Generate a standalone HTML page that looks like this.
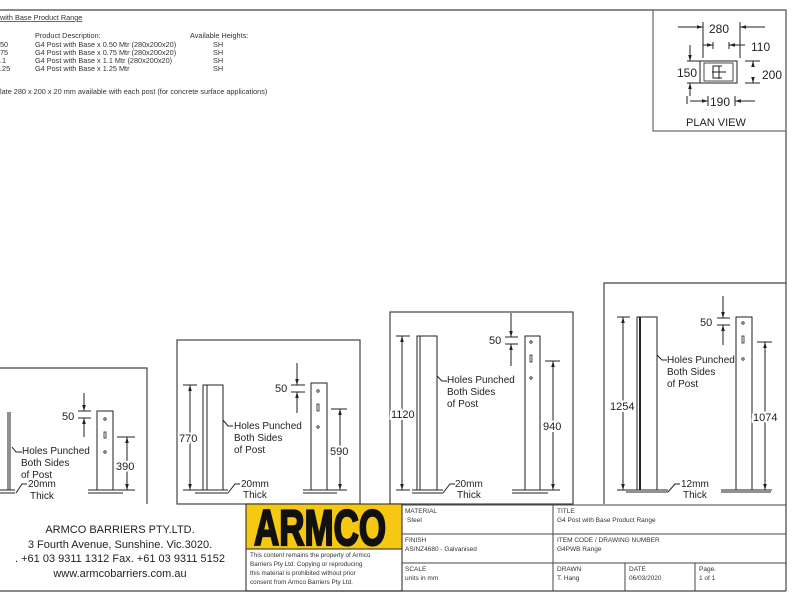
<!DOCTYPE html>
<html><head><meta charset="utf-8"><style>
html,body{margin:0;padding:0;background:#fff;}
svg{display:block;font-family:"Liberation Sans",Arial,sans-serif;}
.d{paint-order:stroke;stroke:#fff;stroke-width:4px;}
</style></head><body>
<svg width="800" height="600" viewBox="0 0 800 600" xmlns="http://www.w3.org/2000/svg">
<defs>
<marker id="a" viewBox="0 0 10 10" refX="10" refY="5" markerWidth="6" markerHeight="6" orient="auto-start-reverse"><path d="M0,2 L10,5 L0,8 z" fill="#222"/></marker>
</defs>
<g fill="none" stroke="#444" stroke-width="1.2">
<line x1="0" y1="10" x2="786" y2="10"/>
<line x1="786" y1="10" x2="786" y2="591"/>
<line x1="0" y1="591" x2="786" y2="591"/>
<rect x="653" y="10" width="133" height="121" stroke="#666"/>
<polyline points="0,368 147,368 147,504"/>
<rect x="177" y="340" width="183" height="164"/>
<rect x="390" y="312" width="183" height="192"/>
<polyline points="604,504 604,283 786,283"/>
</g>
<g font-size="7.3" fill="#333">
<text x="0" y="20" text-decoration="underline">with Base Product Range</text>
<text x="35" y="38">Product Description:</text><text x="190" y="38">Available Heights:</text>
<text x="0" y="47">50</text><text x="35" y="47">G4 Post with Base x 0.50 Mtr (280x200x20)</text><text x="213" y="47">SH</text>
<text x="0" y="55">75</text><text x="35" y="55">G4 Post with Base x 0.75 Mtr (280x200x20)</text><text x="213" y="55">SH</text>
<text x="0" y="63">.1</text><text x="35" y="63">G4 Post with Base x 1.1 Mtr (280x200x20)</text><text x="213" y="63">SH</text>
<text x="0" y="71">.25</text><text x="35" y="71">G4 Post with Base x 1.25 Mtr</text><text x="213" y="71">SH</text>
<text x="0" y="94">late 280 x 200 x 20 mm available with each post (for concrete surface applications)</text>
</g>
<g stroke="#222" stroke-width="1" fill="none">
<line x1="703" y1="22" x2="703" y2="58"/><line x1="740" y1="22" x2="740" y2="58"/>
<line x1="678" y1="27" x2="703" y2="27" marker-end="url(#a)"/><line x1="765" y1="27" x2="740" y2="27" marker-end="url(#a)"/>
<line x1="713" y1="42" x2="713" y2="49"/><line x1="729" y1="42" x2="729" y2="49"/>
<line x1="703" y1="45" x2="713" y2="45" marker-end="url(#a)"/><line x1="745" y1="45" x2="729" y2="45" marker-end="url(#a)"/>
<rect x="700" y="61" width="37" height="22"/>
<rect x="704" y="63" width="29" height="18" stroke-width="0.8"/>
<path d="M722,66 h-9 v12 h9" /><line x1="712" y1="72" x2="726" y2="72"/><line x1="719" y1="66" x2="719" y2="79"/>
<line x1="687" y1="61" x2="700" y2="61"/><line x1="687" y1="83" x2="700" y2="83"/>
<line x1="690" y1="45" x2="690" y2="61" marker-end="url(#a)"/><line x1="690" y1="96" x2="690" y2="83" marker-end="url(#a)"/>
<line x1="745" y1="61" x2="760" y2="61"/><line x1="745" y1="83" x2="760" y2="83"/>
<line x1="753" y1="66" x2="753" y2="61" marker-end="url(#a)"/><line x1="753" y1="78" x2="753" y2="83" marker-end="url(#a)"/>
<line x1="687" y1="96" x2="687" y2="104"/><line x1="708" y1="96" x2="708" y2="106"/><line x1="735" y1="96" x2="735" y2="106"/>
<line x1="690" y1="101" x2="708" y2="101" marker-end="url(#a)"/><line x1="755" y1="101" x2="735" y2="101" marker-end="url(#a)"/>
</g>
<g fill="#222" font-size="12">
<text x="709" y="33">280</text><text x="751" y="51">110</text><text x="677" y="77" class="d">150</text><text x="762" y="79">200</text><text x="710" y="106">190</text>
<text x="686" y="126" font-size="11">PLAN VIEW</text>
</g>
<g stroke="#222" stroke-width="1" fill="none">
<line x1="8" y1="412" x2="8" y2="490"/><line x1="10" y1="412" x2="10" y2="490"/>
<line x1="0" y1="490" x2="15" y2="490"/><line x1="0" y1="493" x2="15" y2="493"/>
<polyline points="12,447 16,452 22,452"/>
<polyline points="16,493 22,484 27,484"/>
<rect x="97" y="411" width="16" height="79"/>
<line x1="88" y1="490" x2="123" y2="490"/><line x1="88" y1="493" x2="123" y2="493"/>
<line x1="117" y1="437" x2="135" y2="437"/><line x1="117" y1="490" x2="135" y2="490"/>
<line x1="127" y1="437" x2="127" y2="490" marker-start="url(#a)" marker-end="url(#a)"/>
<line x1="78" y1="411" x2="91" y2="411"/><line x1="78" y1="418" x2="91" y2="418"/>
<line x1="84" y1="393" x2="84" y2="411" marker-end="url(#a)"/><line x1="84" y1="437" x2="84" y2="418" marker-end="url(#a)"/>
<rect x="203" y="385" width="20" height="105"/><line x1="207" y1="385" x2="207" y2="490"/>
<line x1="195" y1="490" x2="228" y2="490"/><line x1="195" y1="493" x2="228" y2="493"/>
<polyline points="223,420 228,426 233,426"/><polyline points="228,493 235,484 240,484"/>
<line x1="183" y1="385" x2="197" y2="385"/><line x1="183" y1="490" x2="197" y2="490"/>
<line x1="190" y1="385" x2="190" y2="490" marker-start="url(#a)" marker-end="url(#a)"/>
<rect x="311" y="383" width="16" height="107"/>
<line x1="303" y1="490" x2="337" y2="490"/><line x1="303" y1="493" x2="337" y2="493"/>
<line x1="331" y1="409" x2="347" y2="409"/><line x1="331" y1="490" x2="347" y2="490"/>
<line x1="340" y1="409" x2="340" y2="490" marker-start="url(#a)" marker-end="url(#a)"/>
<line x1="291" y1="385" x2="305" y2="385"/><line x1="291" y1="392" x2="305" y2="392"/>
<line x1="297" y1="363" x2="297" y2="385" marker-end="url(#a)"/><line x1="297" y1="413" x2="297" y2="392" marker-end="url(#a)"/>
<rect x="417" y="336" width="20" height="154"/><line x1="420" y1="336" x2="420" y2="490"/>
<line x1="412" y1="490" x2="443" y2="490"/><line x1="412" y1="493" x2="443" y2="493"/>
<polyline points="437,376 442,381 447,381"/><polyline points="443,493 450,484 455,484"/>
<line x1="396" y1="336" x2="410" y2="336"/><line x1="396" y1="490" x2="410" y2="490"/>
<line x1="402" y1="336" x2="402" y2="490" marker-start="url(#a)" marker-end="url(#a)"/>
<rect x="525" y="336" width="15" height="154"/>
<line x1="512" y1="490" x2="548" y2="490"/><line x1="512" y1="493" x2="548" y2="493"/>
<line x1="545" y1="361" x2="560" y2="361"/><line x1="545" y1="490" x2="560" y2="490"/>
<line x1="553" y1="361" x2="553" y2="490" marker-start="url(#a)" marker-end="url(#a)"/>
<line x1="505" y1="337" x2="518" y2="337"/><line x1="505" y1="344" x2="518" y2="344"/>
<line x1="511" y1="313" x2="511" y2="337" marker-end="url(#a)"/><line x1="511" y1="366" x2="511" y2="344" marker-end="url(#a)"/>
<rect x="637" y="317" width="20" height="173"/><line x1="640" y1="317" x2="640" y2="490" stroke-width="2"/>
<line x1="626" y1="490" x2="668" y2="490"/><line x1="626" y1="492" x2="668" y2="492"/>
<polyline points="657,355 662,360 667,360"/><polyline points="668,492 675,484 680,484"/>
<line x1="617" y1="317" x2="630" y2="317"/><line x1="617" y1="490" x2="630" y2="490"/>
<line x1="623" y1="317" x2="623" y2="490" marker-start="url(#a)" marker-end="url(#a)"/>
<rect x="736" y="317" width="16" height="173"/>
<line x1="721" y1="490" x2="771" y2="490"/><line x1="721" y1="492" x2="771" y2="492"/>
<line x1="757" y1="342" x2="772" y2="342"/><line x1="757" y1="490" x2="772" y2="490"/>
<line x1="765" y1="342" x2="765" y2="490" marker-start="url(#a)" marker-end="url(#a)"/>
<line x1="717" y1="318" x2="730" y2="318"/><line x1="717" y1="325" x2="730" y2="325"/>
<line x1="723" y1="296" x2="723" y2="318" marker-end="url(#a)"/><line x1="723" y1="345" x2="723" y2="325" marker-end="url(#a)"/>
</g>
<g fill="none" stroke="#222" stroke-width="0.8">
<circle cx="105" cy="419" r="1.2"/><rect x="104" y="432" width="2" height="6"/><circle cx="105" cy="452" r="1.2"/>
<circle cx="318" cy="391" r="1.2"/><rect x="317" y="404" width="2" height="7"/><circle cx="318" cy="427" r="1.2"/>
<circle cx="531" cy="342" r="1.2"/><rect x="530" y="355" width="2" height="7"/><circle cx="531" cy="378" r="1.2"/>
<circle cx="743" cy="323" r="1.2"/><rect x="742" y="336" width="2" height="7"/><circle cx="743" cy="359" r="1.2"/>
</g>
<g fill="#222" font-size="11">
<text x="62" y="420">50</text><text x="116" y="470" class="d">390</text>
<text x="22" y="454" font-size="10">Holes Punched</text><text x="21" y="466" font-size="10">Both Sides</text><text x="21" y="478" font-size="10">of Post</text>
<text x="28" y="487" font-size="10">20mm</text><text x="30" y="499" font-size="10">Thick</text>
<text x="275" y="392">50</text><text x="330" y="455" class="d">590</text><text x="179" y="442" class="d">770</text>
<text x="234" y="429" font-size="10">Holes Punched</text><text x="234" y="441" font-size="10">Both Sides</text><text x="234" y="453" font-size="10">of Post</text>
<text x="241" y="487" font-size="10">20mm</text><text x="243" y="498" font-size="10">Thick</text>
<text x="489" y="344">50</text><text x="543" y="430" class="d">940</text><text x="391" y="418" class="d">1120</text>
<text x="447" y="383" font-size="10">Holes Punched</text><text x="447" y="395" font-size="10">Both Sides</text><text x="447" y="407" font-size="10">of Post</text>
<text x="455" y="487" font-size="10">20mm</text><text x="457" y="498" font-size="10">Thick</text>
<text x="700" y="326">50</text><text x="753" y="421" class="d">1074</text><text x="610" y="410" class="d">1254</text>
<text x="667" y="363" font-size="10">Holes Punched</text><text x="667" y="375" font-size="10">Both Sides</text><text x="667" y="387" font-size="10">of Post</text>
<text x="681" y="487" font-size="10">12mm</text><text x="683" y="498" font-size="10">Thick</text>
</g>
<g fill="#222" font-size="11" text-anchor="middle">
<text x="120" y="533">ARMCO BARRIERS PTY.LTD.</text>
<text x="120" y="548">3 Fourth Avenue, Sunshine. Vic.3020.</text>
<text x="120" y="562">. +61 03 9311 1312 Fax. +61 03 9311 5152</text>
<text x="120" y="577">www.armcobarriers.com.au</text>
</g>
<rect x="246" y="504" width="156" height="45" fill="#f6c812" stroke="#222"/>
<rect x="246" y="504" width="156" height="87" fill="none" stroke="#222"/>
<text x="254" y="545" font-size="50" font-weight="bold" fill="#111" stroke="#111" stroke-width="2.2" textLength="132" lengthAdjust="spacingAndGlyphs">ARMCO</text>
<g font-size="6.3" fill="#333">
<text x="250" y="557">This content remains the property of Armco</text>
<text x="250" y="566">Barriers Pty Ltd. Copying or reproducing</text>
<text x="250" y="575">this material is prohibited without prior</text>
<text x="250" y="584">consent from Armco Barriers Pty Ltd.</text>
</g>
<g stroke="#444" stroke-width="1" fill="none">
<line x1="402" y1="505" x2="786" y2="505"/>
<line x1="402" y1="534" x2="786" y2="534"/>
<line x1="402" y1="563" x2="786" y2="563"/>
<line x1="553" y1="505" x2="553" y2="591"/>
<line x1="625" y1="563" x2="625" y2="591"/>
<line x1="695" y1="563" x2="695" y2="591"/>
</g>
<g font-size="6.5" fill="#333">
<text x="405" y="513">MATERIAL</text><text x="407" y="522">Steel</text>
<text x="405" y="542">FINISH</text><text x="405" y="551">AS/NZ4680 - Galvanised</text>
<text x="405" y="571">SCALE</text><text x="405" y="580">units in mm</text>
<text x="557" y="513">TITLE</text><text x="557" y="522">G4 Post with Base Product Range</text>
<text x="557" y="542">ITEM CODE / DRAWING NUMBER</text><text x="557" y="551">G4PWB Range</text>
<text x="557" y="571">DRAWN</text><text x="557" y="580">T. Hang</text>
<text x="629" y="571">DATE</text><text x="629" y="580">06/03/2020</text>
<text x="699" y="571">Page.</text><text x="699" y="580">1 of 1</text>
</g>
</svg>
</body></html>
